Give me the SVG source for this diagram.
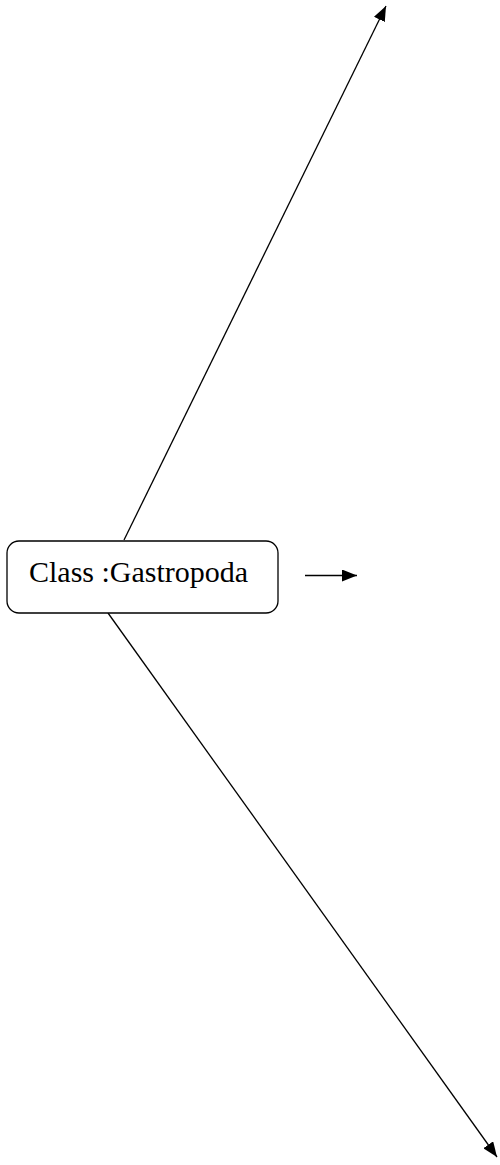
<svg xmlns="http://www.w3.org/2000/svg" width="500" height="1165" viewBox="0 0 500 1165">
<style>
.edge{stroke:#000;stroke-width:1.3;fill:none}
.node{fill:#fff;stroke:#000;stroke-width:1.3}
.label{font-family:"Liberation Serif","Times New Roman",serif;font-size:30px;fill:#000}
</style>
<defs>
<marker id="ah" markerUnits="userSpaceOnUse" markerWidth="16" markerHeight="12" refX="15" refY="6" orient="auto">
<path d="M0,0 L15,6 L0,12 Z" fill="#000"/>
</marker>
</defs>
<rect width="500" height="1165" fill="#fff"/>
<g id="connectors">
<line class="edge" x1="124" y1="540" x2="386" y2="6" marker-end="url(#ah)"/>
<line class="edge" x1="108" y1="613" x2="497" y2="1157" marker-end="url(#ah)"/>
<line class="edge" x1="305" y1="575.5" x2="357" y2="575.5" marker-end="url(#ah)"/>
</g>
<g id="node-gastropoda">
<rect class="node" x="7" y="541" width="271" height="72" rx="12" ry="12"/>
<text class="label" x="29" y="582">Class :Gastropoda</text>
</g>
</svg>
